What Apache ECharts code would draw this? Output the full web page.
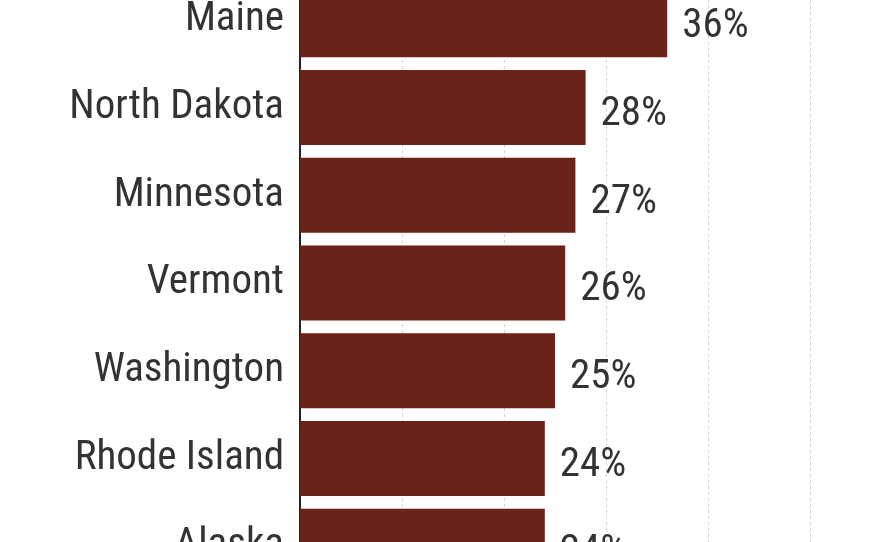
<!DOCTYPE html>
<html><head><meta charset="utf-8">
<script src="https://cdn.jsdelivr.net/npm/echarts@6/dist/echarts.min.js"></script>
<style>html,body{margin:0;padding:0;background:#fff}#c{width:880px;height:542px}</style>
</head><body><div id="c"></div>
<script>
const categories = ["Maine","North Dakota","Minnesota","Vermont","Washington","Rhode Island","Alaska"];
const values = [36,28,27,26,25,24,24];
const F = "'Roboto Condensed','Liberation Sans Narrow',Roboto,sans-serif";
const chart = echarts.init(document.getElementById('c'));
chart.setOption({
  animation:false,
  grid:{left:300,top:-24,width:510,height:614,outerBoundsMode:'none',containLabel:false},
  xAxis:{type:'value',min:0,max:50,interval:10,axisLabel:{show:false},axisLine:{show:false},axisTick:{show:false},
    splitLine:{show:true,lineStyle:{color:'#d4d4d4',type:[3,3],width:1}}},
  yAxis:{type:'category',inverse:true,data:categories,axisTick:{show:false},
    axisLine:{show:true,lineStyle:{color:'#222',width:2}},
    axisLabel:{fontFamily:F,fontSize:41,color:'#333',margin:16}},
  series:[{type:'bar',data:values,barWidth:75,itemStyle:{color:'#6b2318'},
    label:{show:true,position:'right',distance:15,offset:[0,7],fontFamily:F,fontSize:41,color:'#333',formatter:'{c}%'}}]
});
</script></body></html>
